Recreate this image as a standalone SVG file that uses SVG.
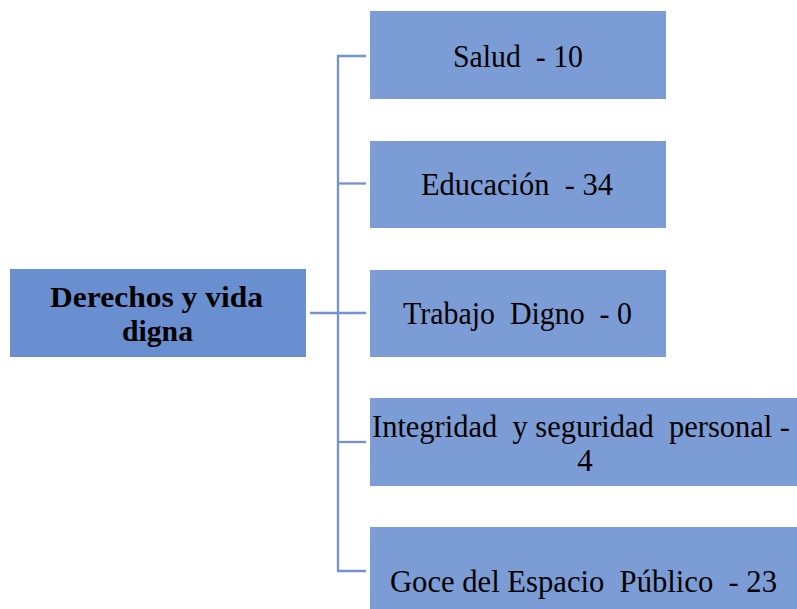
<svg xmlns="http://www.w3.org/2000/svg" width="797" height="609" viewBox="0 0 797 609">
<style>
.main{fill:#6a8fd0}
.child{fill:#7b9cd5}
.conn{stroke:#7292d0;stroke-width:2.3;fill:none}
.t{font-family:"Liberation Serif","Times New Roman",serif;font-size:31px;fill:#000}
.b{font-family:"Liberation Serif","Times New Roman",serif;font-size:29px;font-weight:bold;fill:#000}
</style>
<rect width="797" height="609" fill="#ffffff"/>
<g id="connectors">
<path class="conn" d="M366,56 H338 V571 H366"/>
<path class="conn" d="M338,183.5 H366"/>
<path class="conn" d="M310,313 H366"/>
<path class="conn" d="M338,442 H366"/>
</g>
<g id="root">
<rect class="main" x="10" y="269" width="296" height="88"/>
<text class="b" x="50" y="306.5" textLength="213" lengthAdjust="spacingAndGlyphs">Derechos y vida</text>
<text class="b" x="122" y="341" textLength="71" lengthAdjust="spacingAndGlyphs">digna</text>
</g>
<g id="salud">
<rect class="child" x="370" y="11" width="296" height="88"/>
<text class="t" x="453" y="66.5" textLength="130" lengthAdjust="spacingAndGlyphs" xml:space="preserve">Salud  - 10</text>
</g>
<g id="educacion">
<rect class="child" x="370" y="141" width="296" height="87"/>
<text class="t" x="421" y="194.5" textLength="192" lengthAdjust="spacingAndGlyphs" xml:space="preserve">Educación  - 34</text>
</g>
<g id="trabajo">
<rect class="child" x="370" y="270" width="296" height="87"/>
<text class="t" x="403" y="324" textLength="229" lengthAdjust="spacingAndGlyphs" xml:space="preserve">Trabajo  Digno  - 0</text>
</g>
<g id="integridad">
<rect class="child" x="370" y="398" width="432" height="88"/>
<text class="t" x="372" y="436.5" textLength="418" lengthAdjust="spacingAndGlyphs" xml:space="preserve">Integridad  y seguridad  personal -</text>
<text class="t" x="585" y="471" text-anchor="middle">4</text>
</g>
<g id="goce">
<rect class="child" x="370" y="527" width="432" height="88"/>
<text class="t" x="390" y="591.5" textLength="387" lengthAdjust="spacingAndGlyphs" xml:space="preserve">Goce del Espacio  Público  - 23</text>
</g>
</svg>
